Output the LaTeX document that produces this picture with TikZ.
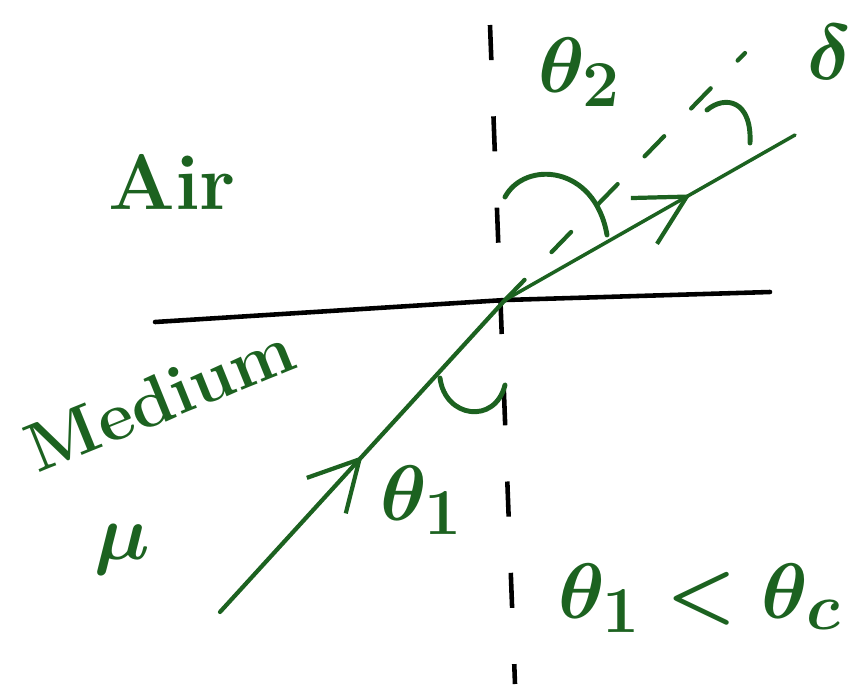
\documentclass[tikz,border=0pt]{standalone}
\usepackage{tikz}
\usetikzlibrary{arrows.meta, decorations.markings}
\definecolor{inkgreen}{RGB}{28,98,32}

\begin{document}
\begin{tikzpicture}[x=0.02cm, y=-0.02cm,
    ray/.style={draw=inkgreen, line width=2.4pt, line cap=round},
    normalline/.style={draw=black, line width=2.6pt, dash pattern=on 20pt off 32pt},
    handtext/.style={text=inkgreen, font=\Huge\bfseries\boldmath, scale=1.8},
    midarrow/.style={postaction={decorate}, decoration={markings,
      mark=at position #1 with {\arrow[inkgreen, line width=2.4pt]{Straight Barb[length=28pt, width=30pt]}}}}]

    \useasboundingbox (0,0) rectangle (855,684);

    % Points of the figure
    \coordinate (L) at (155,322);
    \coordinate (R) at (770,292);
    \coordinate (O) at (505,300);
    \coordinate (N1) at (490,25);
    \coordinate (N2) at (515,684);
    \coordinate (A) at (220,612);
    \coordinate (B) at (795,135);
    \coordinate (E) at (745,53);

    % Interface and normal
    \draw[line width=2.6pt, line cap=round] (L) -- (O) -- (R);
    \draw[normalline] (N1) -- (N2);

    % Incident and refracted rays
    \draw[ray, midarrow=0.5] (A) -- (O);
    \draw[ray, line width=2pt, midarrow=0.64] (O) -- (B);

    % Incident ray produced
    \draw[ray, dash pattern=on 16pt off 22pt] (O) -- (E);

    % Angle marks
    \draw[ray, line width=2.8pt] (440,378) .. controls (445,418) and (495,425) .. (505,385);
    \draw[ray, line width=2.8pt] (505,197) .. controls (525,160) and (595,165) .. (607,235);
    \draw[ray, line width=2.8pt] (707,110) .. controls (725,95) and (752,100) .. (750,143);

    % Labels
    \node[handtext] (air) at (172,182) {Air};
    \node[handtext, scale=0.88, rotate=22] (medium) at (160,398) {Medium};
    \node[handtext] (mu) at (122,550) {$\mu$};
    \node[handtext] (th1) at (422,500) {$\theta_1$};
    \node[handtext] (th2) at (580,72) {$\theta_2$};
    \node[handtext] (delta) at (830,52) {$\delta$};
    \node[handtext] (cond) at (700,598) {$\theta_1<\theta_c$};

\end{tikzpicture}
\end{document}
